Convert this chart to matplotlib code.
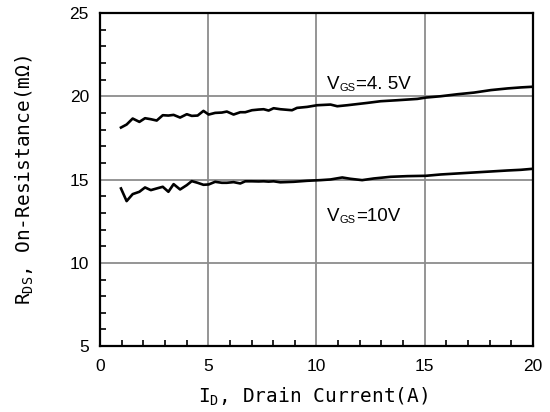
import matplotlib
matplotlib.use("Agg")
import matplotlib.pyplot as plt
from matplotlib.ticker import MultipleLocator

# Drain current (A) and on-resistance (mOhm)
id_45 = [0.97, 1.23, 1.51, 1.82, 2.08, 2.35, 2.62, 2.90, 3.16, 3.40, 3.70, 4.01, 4.24,
         4.51, 4.78, 5.02, 5.32, 5.63, 5.86, 6.17, 6.48, 6.71, 7.02, 7.33, 7.56, 7.79,
         8.02, 8.33, 8.87, 9.10, 9.57, 10.03, 10.65, 10.96, 11.42, 12.35, 12.96, 13.73,
         14.66, 15.05, 15.74, 16.51, 17.28, 18.06, 18.83, 19.44, 19.98]
r_45 = [18.13, 18.31, 18.67, 18.47, 18.69, 18.63, 18.55, 18.87, 18.85, 18.89, 18.73, 18.93,
        18.83, 18.85, 19.13, 18.91, 19.01, 19.03, 19.09, 18.91, 19.05, 19.05, 19.17, 19.21,
        19.23, 19.15, 19.29, 19.23, 19.17, 19.31, 19.37, 19.47, 19.51, 19.41, 19.47, 19.61,
        19.71, 19.77, 19.85, 19.93, 20.01, 20.13, 20.23, 20.38, 20.48, 20.54, 20.58]

id_10 = [0.97, 1.23, 1.51, 1.82, 2.08, 2.35, 2.62, 2.90, 3.16, 3.40, 3.70, 4.01, 4.24,
         4.51, 4.78, 5.02, 5.32, 5.63, 5.86, 6.17, 6.48, 6.71, 7.02, 7.33, 7.56, 7.79,
         8.02, 8.33, 8.95, 9.57, 10.19, 10.65, 11.19, 11.57, 12.11, 12.65, 13.43, 14.20,
         15.05, 15.74, 16.51, 17.28, 18.06, 18.83, 19.44, 19.98]
r_10 = [14.47, 13.71, 14.13, 14.27, 14.53, 14.37, 14.47, 14.57, 14.27, 14.73, 14.41, 14.67,
        14.91, 14.81, 14.69, 14.71, 14.87, 14.81, 14.81, 14.85, 14.77, 14.90, 14.90, 14.89,
        14.90, 14.88, 14.90, 14.84, 14.87, 14.93, 14.97, 15.01, 15.13, 15.05, 14.97, 15.07,
        15.17, 15.21, 15.23, 15.31, 15.37, 15.43, 15.49, 15.55, 15.59, 15.65]

label_45 = ("V", "GS", "=4. 5V")
label_10 = ("V", "GS", "=10V")
xlabel = r"I$_\mathregular{D}$, Drain Current(A)"
ylabel = r"R$_\mathregular{DS}$, On-Resistance(m$\mathregular{\Omega}$)"

x_ticks = [0, 5, 10, 15, 20]
y_ticks = [5, 10, 15, 20, 25]

fig = plt.figure(figsize=(5.5, 4.12), dpi=100)
ax = fig.add_axes([0.1818, 0.160, 0.969 - 0.1818, 0.968 - 0.160])

ax.plot(id_45, r_45, color="black", lw=1.9, zorder=3)
ax.plot(id_10, r_10, color="black", lw=1.9, zorder=3)

ax.set_xlim(0, 20)
ax.set_ylim(5, 25)
ax.set_xticks(x_ticks)
ax.set_yticks(y_ticks)
ax.xaxis.set_minor_locator(MultipleLocator(1))
ax.yaxis.set_minor_locator(MultipleLocator(1))
ax.tick_params(which="major", direction="in", length=0, labelsize=12.5)
ax.tick_params(axis="x", which="major", pad=9)
ax.tick_params(axis="y", which="major", pad=8)
ax.tick_params(which="minor", direction="in", length=4, width=1.2, color="black")
ax.tick_params(axis="x", which="both", top=False)
ax.tick_params(axis="y", which="both", right=False)
for lab in ax.get_xticklabels() + ax.get_yticklabels():
    lab.set_fontfamily("Liberation Sans")

ax.grid(True, which="major", color="#8c8c8c", lw=1.3)
ax.set_axisbelow(True)
for s in ax.spines.values():
    s.set_color("black")
    s.set_linewidth(1.6)

fam = "Liberation Sans"


def sub_label(x, y, parts):
    main, sub, rest = parts
    t1 = ax.text(x, y, main, fontsize=13.5, family=fam, va="bottom", ha="left")
    t2 = ax.annotate(sub, xy=(1, 0), xycoords=t1, fontsize=8, family=fam,
                     va="bottom", ha="left")
    ax.annotate(rest, xy=(1, 0), xycoords=t2, fontsize=13.5, family=fam,
                va="bottom", ha="left")


sub_label(10.5, 20.2, label_45)
sub_label(10.5, 12.3, label_10)

ax.set_xlabel(xlabel, fontsize=14, family="DejaVu Sans Mono")
ax.set_ylabel(ylabel, fontsize=14, family="DejaVu Sans Mono")
ax.xaxis.set_label_coords(0.493, -0.118)
ax.yaxis.set_label_coords(-0.148, 0.5)

fig.savefig("out.png", dpi=100)
